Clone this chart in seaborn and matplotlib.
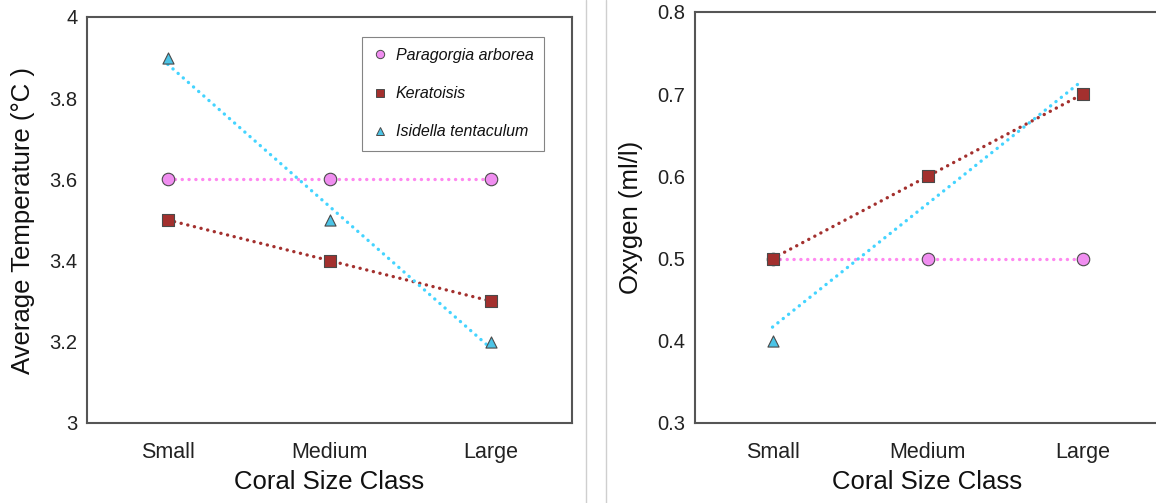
import matplotlib
matplotlib.use("Agg")
import matplotlib.pyplot as plt
from matplotlib.lines import Line2D
import numpy as np
import pandas as pd
import seaborn as sns

# ---- data ----
size_classes = ["Small", "Medium", "Large"]
species = ["Paragorgia arborea", "Keratoisis", "Isidella tentaculum"]
temp_paragorgia = [3.6, 3.6, 3.6]
temp_keratoisis = [3.5, 3.4, 3.3]
temp_isidella = [3.9, 3.5, 3.2]
oxy_paragorgia = [0.5, 0.5, 0.5]
oxy_keratoisis = [0.5, 0.6, 0.7]
oxy_isidella = [0.4, 0.6, 0.7]
temp_ticks = [3.0, 3.2, 3.4, 3.6, 3.8, 4.0]
temp_ticklabels = ["3", "3.2", "3.4", "3.6", "3.8", "4"]
oxy_ticks = [0.3, 0.4, 0.5, 0.6, 0.7, 0.8]
oxy_ticklabels = ["0.3", "0.4", "0.5", "0.6", "0.7", "0.8"]

sns.set_style("white")
plt.rcParams["font.family"] = ["Liberation Sans", "DejaVu Sans"]

styles = {
    "Paragorgia arborea": dict(marker="o", face="#f08ef0", line="#ff88f0", ms=9, z=3),
    "Keratoisis": dict(marker="s", face="#a3302e", line="#a3302e", ms=9, z=4),
    "Isidella tentaculum": dict(marker="^", face="#4cc4e6", line="#44d4ff", ms=8, z=2),
}

def build_df(vals):
    rows = []
    for sp, v in zip(species, vals):
        for i, (c, y) in enumerate(zip(size_classes, v)):
            rows.append(dict(species=sp, size=c, pos=i, value=y))
    return pd.DataFrame(rows)

temp_df = build_df([temp_paragorgia, temp_keratoisis, temp_isidella])
oxy_df = build_df([oxy_paragorgia, oxy_keratoisis, oxy_isidella])

W, H = 1156, 503
fig = plt.figure(figsize=(W / 100, H / 100), dpi=100)
ax1 = fig.add_axes([87 / W, 1 - 423 / H, 485 / W, 406 / H])
ax2 = fig.add_axes([695 / W, 1 - 423 / H, (1160 - 695) / W, 411 / H])

def draw(ax, df):
    for sp in species:
        st = styles[sp]
        sub = df[df.species == sp]
        sns.regplot(data=sub, x="pos", y="value", ax=ax, ci=None, scatter=False,
                    truncate=True,
                    line_kws=dict(color=st["line"], ls=(0, (0.05, 2.0)), lw=2.4,
                                  dash_capstyle="round", solid_capstyle="round",
                                  zorder=1))
    for sp in species:
        st = styles[sp]
        sub = df[df.species == sp]
        sns.scatterplot(data=sub, x="pos", y="value", ax=ax, marker=st["marker"],
                        s=st["ms"] ** 2, color=st["face"], edgecolor="#4a4a4a",
                        linewidth=0.8, zorder=st["z"], legend=False)

draw(ax1, temp_df)
draw(ax2, oxy_df)

for ax, ticks, labels, ylab, lim in [
    (ax1, temp_ticks, temp_ticklabels, "Average Temperature (°C )", (3.0, 4.0)),
    (ax2, oxy_ticks, oxy_ticklabels, "Oxygen (ml/l)", (0.3, 0.8)),
]:
    ax.set_xlim(-0.5, 2.5)
    ax.set_ylim(*lim)
    ax.set_xticks(range(len(size_classes)))
    ax.set_xticklabels(size_classes)
    ax.set_yticks(ticks)
    ax.set_yticklabels(labels)
    ax.tick_params(axis="both", length=0, colors="#222222")
    ax.tick_params(axis="x", pad=14, labelsize=15.5)
    ax.tick_params(axis="y", pad=7, labelsize=14.5)
    ax.set_xlabel("Coral Size Class", fontsize=18.5, color="#111111", labelpad=5)
    ax.set_ylabel(ylab, fontsize=18.5, color="#111111", labelpad=10)
    for s in ax.spines.values():
        s.set_visible(True)
        s.set_color("#555555")
        s.set_linewidth(1.5)
    ax.grid(False)

handles = [
    Line2D([], [], ls="none", marker=styles[sp]["marker"], markersize=6,
           markerfacecolor=styles[sp]["face"], markeredgecolor="#4a4a4a",
           markeredgewidth=0.7, label=sp)
    for sp in species
]
leg = ax1.legend(handles=handles, loc="upper left", bbox_to_anchor=(0.567, 0.951),
                 borderaxespad=0, frameon=True, fancybox=False, fontsize=11.5,
                 labelspacing=1.45, handlelength=0.8, handletextpad=0.6,
                 borderpad=0.7)
leg.get_frame().set_edgecolor("#666666")
leg.get_frame().set_linewidth(0.8)
for t in leg.get_texts():
    t.set_fontstyle("italic")
    t.set_color("#111111")

for xp in (586, 606):
    fig.add_artist(Line2D([xp / W, xp / W], [0, 1], transform=fig.transFigure,
                          color="#cfcfcf", lw=1))

fig.savefig("out.png", dpi=100)
